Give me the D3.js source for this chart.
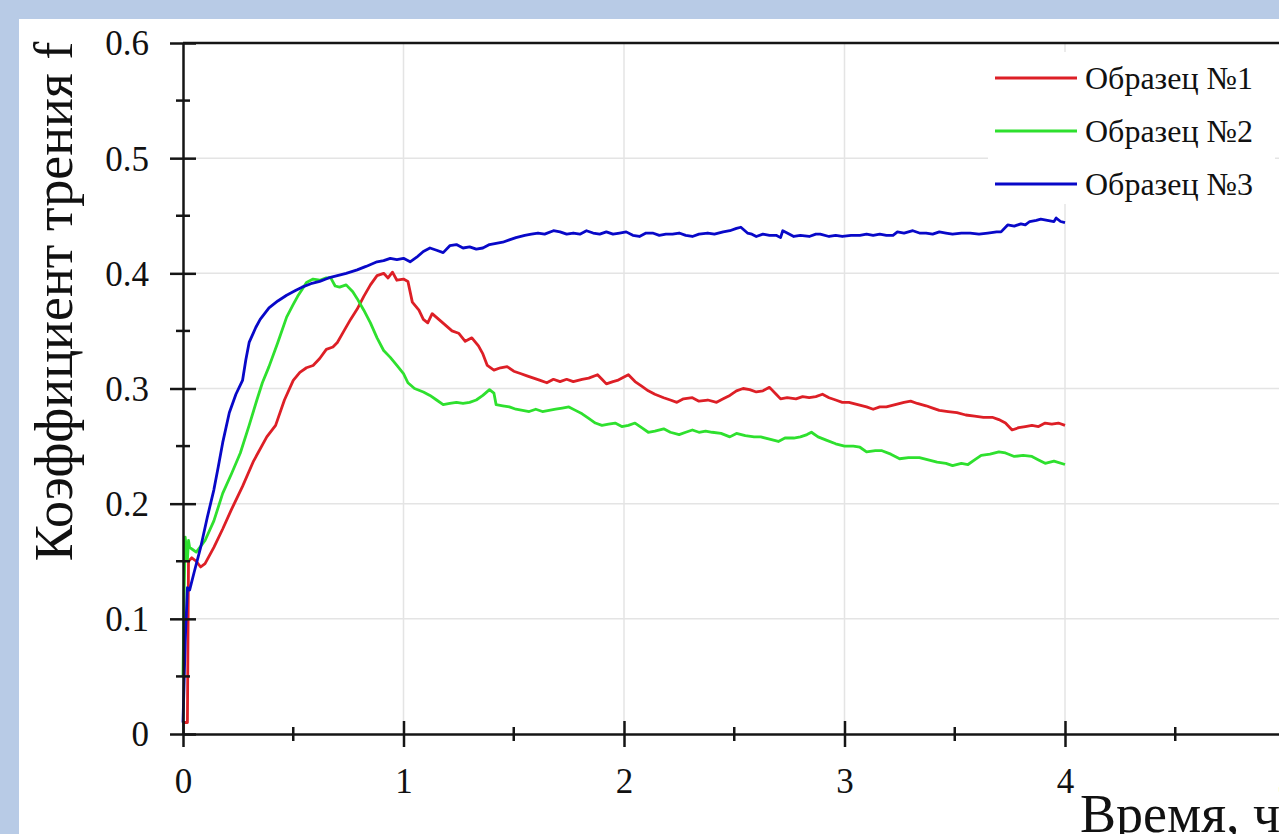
<!DOCTYPE html>
<html>
<head>
<meta charset="utf-8">
<script src="https://cdn.jsdelivr.net/npm/d3@7"></script>
<style>
    html, body { margin: 0; padding: 0; background: #b8cbe6; }
    svg { display: block; }
    text { font-family: "Liberation Serif", "Times New Roman", serif; fill: #111; }
</style>
</head>
<body>
<div id="chart"></div>
<script>
// --- data ---
const seriesNames = ['Образец №1', 'Образец №2', 'Образец №3'];
const seriesColors = ['#dd1f26', '#2ee02e', '#0808c8'];

const xTickLabels = ['0', '1', '2', '3', '4', '5'];
const yTickLabels = ['0', '0.1', '0.2', '0.3', '0.4', '0.5', '0.6'];

const time1 = [0, 0.02, 0.025, 0.04, 0.06, 0.08, 0.10, 0.14, 0.18, 0.22, 0.27, 0.32, 0.38, 0.42, 0.46, 0.50, 0.53, 0.56, 0.59, 0.62,
    0.65, 0.68, 0.70, 0.73, 0.76, 0.79, 0.82, 0.85, 0.88, 0.91, 0.93, 0.95, 0.97, 1.00, 1.02, 1.04, 1.07, 1.09, 1.11, 1.13,
    1.16, 1.19, 1.22, 1.25, 1.28, 1.31, 1.34, 1.36, 1.38, 1.41, 1.44, 1.47, 1.50, 1.53, 1.56, 1.59, 1.62, 1.65, 1.68, 1.71,
    1.74, 1.77, 1.81, 1.84, 1.88, 1.90, 1.92, 1.95, 1.97, 2.00, 2.02, 2.05, 2.08, 2.11, 2.14, 2.18, 2.21, 2.24, 2.27, 2.31,
    2.34, 2.38, 2.42, 2.45, 2.48, 2.51, 2.54, 2.57, 2.60, 2.63, 2.66, 2.69, 2.71, 2.74, 2.78, 2.81, 2.84, 2.87, 2.90, 2.93,
    2.96, 2.99, 3.02, 3.06, 3.10, 3.13, 3.16, 3.19, 3.23, 3.27, 3.30, 3.33, 3.37, 3.40, 3.43, 3.47, 3.51, 3.55, 3.59, 3.63,
    3.67, 3.70, 3.73, 3.76, 3.79, 3.82, 3.85, 3.88, 3.91, 3.94, 3.97, 4.00];
const friction1 = [0.010, 0.010, 0.150, 0.153, 0.150, 0.145, 0.148, 0.162, 0.178, 0.195, 0.215, 0.237, 0.258, 0.268, 0.290, 0.307, 0.314, 0.318, 0.320, 0.326,
    0.334, 0.336, 0.340, 0.350, 0.360, 0.369, 0.380, 0.390, 0.398, 0.400, 0.396, 0.401, 0.394, 0.395, 0.393, 0.375, 0.368, 0.360, 0.357, 0.365,
    0.360, 0.355, 0.350, 0.348, 0.341, 0.344, 0.337, 0.330, 0.320, 0.316, 0.318, 0.319, 0.315, 0.313, 0.311, 0.309, 0.307, 0.305, 0.308, 0.306,
    0.308, 0.306, 0.308, 0.309, 0.312, 0.308, 0.304, 0.306, 0.307, 0.310, 0.312, 0.306, 0.302, 0.298, 0.295, 0.292, 0.290, 0.288, 0.291, 0.292,
    0.289, 0.290, 0.288, 0.291, 0.294, 0.298, 0.300, 0.299, 0.297, 0.298, 0.301, 0.295, 0.291, 0.292, 0.291, 0.293, 0.292, 0.293, 0.295, 0.292,
    0.290, 0.288, 0.288, 0.286, 0.284, 0.282, 0.284, 0.284, 0.286, 0.288, 0.289, 0.287, 0.285, 0.283, 0.281, 0.280, 0.279, 0.277, 0.276, 0.275,
    0.275, 0.273, 0.270, 0.264, 0.266, 0.267, 0.268, 0.267, 0.270, 0.269, 0.270, 0.268];

const time2 = [0, 0.005, 0.01, 0.015, 0.02, 0.025, 0.03, 0.045, 0.06, 0.08, 0.10, 0.14, 0.18, 0.22, 0.26, 0.30, 0.335, 0.36, 0.39, 0.43,
    0.47, 0.50, 0.52, 0.54, 0.56, 0.59, 0.62, 0.65, 0.67, 0.69, 0.71, 0.74, 0.77, 0.79, 0.82, 0.85, 0.88, 0.91, 0.94, 0.97,
    1.00, 1.02, 1.05, 1.09, 1.12, 1.15, 1.18, 1.21, 1.24, 1.27, 1.30, 1.33, 1.36, 1.39, 1.41, 1.42, 1.45, 1.48, 1.51, 1.54,
    1.57, 1.60, 1.63, 1.66, 1.69, 1.72, 1.75, 1.78, 1.81, 1.84, 1.87, 1.90, 1.93, 1.96, 1.99, 2.02, 2.05, 2.08, 2.11, 2.14,
    2.18, 2.21, 2.25, 2.28, 2.31, 2.34, 2.37, 2.40, 2.44, 2.48, 2.51, 2.55, 2.59, 2.62, 2.66, 2.70, 2.73, 2.77, 2.80, 2.83,
    2.85, 2.88, 2.92, 2.96, 3.00, 3.04, 3.07, 3.10, 3.14, 3.17, 3.21, 3.25, 3.29, 3.34, 3.38, 3.42, 3.46, 3.49, 3.53, 3.56,
    3.59, 3.62, 3.66, 3.70, 3.73, 3.77, 3.81, 3.85, 3.88, 3.91, 3.95, 4.00];
const friction2 = [0.050, 0.120, 0.171, 0.160, 0.151, 0.168, 0.162, 0.160, 0.158, 0.163, 0.168, 0.185, 0.209, 0.226, 0.244, 0.268, 0.290, 0.305, 0.319, 0.340,
    0.362, 0.373, 0.380, 0.386, 0.392, 0.395, 0.394, 0.396, 0.396, 0.389, 0.388, 0.390, 0.384, 0.378, 0.368, 0.357, 0.344, 0.333, 0.327, 0.320,
    0.313, 0.305, 0.300, 0.297, 0.294, 0.290, 0.286, 0.287, 0.288, 0.287, 0.288, 0.290, 0.294, 0.299, 0.296, 0.286, 0.285, 0.284, 0.282, 0.281,
    0.280, 0.282, 0.280, 0.281, 0.282, 0.283, 0.284, 0.281, 0.278, 0.274, 0.270, 0.268, 0.269, 0.270, 0.267, 0.268, 0.270, 0.266, 0.262, 0.263,
    0.265, 0.262, 0.260, 0.262, 0.264, 0.262, 0.263, 0.262, 0.261, 0.258, 0.261, 0.259, 0.258, 0.258, 0.256, 0.254, 0.257, 0.257, 0.258, 0.260,
    0.262, 0.258, 0.255, 0.252, 0.250, 0.250, 0.249, 0.245, 0.246, 0.246, 0.243, 0.239, 0.240, 0.240, 0.238, 0.236, 0.235, 0.233, 0.235, 0.234,
    0.238, 0.242, 0.243, 0.245, 0.244, 0.241, 0.242, 0.241, 0.238, 0.235, 0.237, 0.234];

const time3 = [0, 0.01, 0.02, 0.03, 0.05, 0.08, 0.11, 0.14, 0.16, 0.18, 0.21, 0.24, 0.27, 0.285, 0.30, 0.33, 0.35, 0.39, 0.43, 0.47,
    0.51, 0.54, 0.58, 0.62, 0.66, 0.70, 0.74, 0.79, 0.83, 0.88, 0.91, 0.94, 0.97, 1.00, 1.03, 1.06, 1.09, 1.12, 1.15, 1.18,
    1.21, 1.24, 1.27, 1.30, 1.33, 1.36, 1.39, 1.42, 1.45, 1.48, 1.51, 1.55, 1.58, 1.61, 1.64, 1.68, 1.71, 1.74, 1.77, 1.80,
    1.83, 1.86, 1.89, 1.92, 1.95, 1.98, 2.01, 2.04, 2.07, 2.10, 2.13, 2.16, 2.19, 2.22, 2.25, 2.28, 2.31, 2.34, 2.38, 2.41,
    2.45, 2.48, 2.51, 2.53, 2.56, 2.58, 2.60, 2.63, 2.66, 2.69, 2.71, 2.72, 2.74, 2.77, 2.80, 2.84, 2.87, 2.89, 2.93, 2.96,
    2.99, 3.03, 3.07, 3.10, 3.13, 3.16, 3.19, 3.22, 3.24, 3.27, 3.31, 3.34, 3.37, 3.40, 3.43, 3.46, 3.49, 3.53, 3.57, 3.61,
    3.65, 3.69, 3.71, 3.74, 3.77, 3.80, 3.82, 3.84, 3.87, 3.89, 3.92, 3.95, 3.96, 3.98, 4.00];
const friction3 = [0.010, 0.080, 0.127, 0.125, 0.140, 0.162, 0.188, 0.212, 0.232, 0.253, 0.279, 0.295, 0.307, 0.325, 0.340, 0.353, 0.360, 0.370, 0.376, 0.381,
    0.385, 0.388, 0.391, 0.393, 0.396, 0.398, 0.400, 0.403, 0.406, 0.410, 0.411, 0.413, 0.412, 0.413, 0.410, 0.414, 0.419, 0.422, 0.420, 0.418,
    0.424, 0.425, 0.422, 0.423, 0.421, 0.422, 0.425, 0.426, 0.427, 0.429, 0.431, 0.433, 0.434, 0.435, 0.434, 0.437, 0.436, 0.434, 0.435, 0.434,
    0.437, 0.435, 0.434, 0.436, 0.434, 0.435, 0.436, 0.433, 0.432, 0.435, 0.435, 0.433, 0.434, 0.434, 0.435, 0.433, 0.432, 0.434, 0.435, 0.434,
    0.436, 0.437, 0.439, 0.440, 0.435, 0.434, 0.432, 0.434, 0.433, 0.433, 0.431, 0.437, 0.435, 0.432, 0.433, 0.432, 0.434, 0.434, 0.432, 0.433,
    0.432, 0.433, 0.433, 0.434, 0.433, 0.434, 0.433, 0.433, 0.436, 0.435, 0.437, 0.435, 0.435, 0.434, 0.436, 0.435, 0.434, 0.435, 0.435, 0.434,
    0.435, 0.436, 0.436, 0.442, 0.441, 0.443, 0.442, 0.445, 0.446, 0.447, 0.446, 0.445, 0.448, 0.445, 0.444];

const xMinorTicks = [0.5, 1.5, 2.5, 3.5, 4.5];
const yMinorTicks = [0.05, 0.15, 0.25, 0.35, 0.45, 0.55];

// --- layout ---
const CONFIG = {
    WIDTH: 1279,
    HEIGHT: 834,
    PANEL_X: 19,
    PANEL_Y: 19,
    LEFT: 183,
    TOP: 43,
    BOTTOM: 734,
    UNIT_X: 220.5,
    AXIS_COLOR: '#151515',
    GRID_COLOR: '#e4e4e4',
    LINE_WIDTH: 2.8
};

const series = seriesNames.map((name, i) => {
    const t = [time1, time2, time3][i];
    const f = [friction1, friction2, friction3][i];
    return { name: name, color: seriesColors[i], values: t.map((d, j) => ({ t: d, f: f[j] })) };
});

const x = d3.scaleLinear()
    .domain([0, 5])
    .range([CONFIG.LEFT, CONFIG.LEFT + 5 * CONFIG.UNIT_X]);
const y = d3.scaleLinear()
    .domain([0, 0.6])
    .range([CONFIG.BOTTOM, CONFIG.TOP]);

const svg = d3.select('#chart').append('svg')
    .attr('width', CONFIG.WIDTH)
    .attr('height', CONFIG.HEIGHT);

svg.append('rect')
    .attr('width', CONFIG.WIDTH).attr('height', CONFIG.HEIGHT)
    .attr('fill', '#b8cbe6');
svg.append('rect')
    .attr('x', CONFIG.PANEL_X).attr('y', CONFIG.PANEL_Y)
    .attr('width', CONFIG.WIDTH).attr('height', CONFIG.HEIGHT)
    .attr('fill', '#fff');

// grid
const grid = svg.append('g')
    .attr('stroke', CONFIG.GRID_COLOR)
    .attr('stroke-width', 1.5);
grid.selectAll('line.gx')
    .data(d3.range(1, 6))
    .join('line')
    .attr('class', 'gx')
    .attr('x1', d => x(d)).attr('x2', d => x(d))
    .attr('y1', y(0)).attr('y2', y(0.6));
grid.selectAll('line.gy')
    .data(d3.range(1, 6).map(d => d / 10))
    .join('line')
    .attr('class', 'gy')
    .attr('x1', x(0)).attr('x2', x(5))
    .attr('y1', d => y(d)).attr('y2', d => y(d));

// series
const line = d3.line()
    .x(d => x(d.t))
    .y(d => y(d.f));

svg.append('g')
    .selectAll('path')
    .data(series)
    .join('path')
    .attr('d', d => line(d.values))
    .attr('fill', 'none')
    .attr('stroke', d => d.color)
    .attr('stroke-width', CONFIG.LINE_WIDTH)
    .attr('stroke-linejoin', 'round');

// frame top
svg.append('line')
    .attr('x1', x(0)).attr('x2', x(5))
    .attr('y1', y(0.6)).attr('y2', y(0.6))
    .attr('stroke', CONFIG.AXIS_COLOR).attr('stroke-width', 2.5);

// axes
function styleAxis(g, major, horizontal) {
    g.select('.domain').attr('stroke', CONFIG.AXIS_COLOR).attr('stroke-width', 2.5);
    g.selectAll('.tick line')
        .attr('stroke', CONFIG.AXIS_COLOR)
        .attr('stroke-width', 2.5)
        .attr(horizontal ? 'y1' : 'x1', -major)
        .attr(horizontal ? 'y2' : 'x2', major);
    g.selectAll('.tick text')
        .attr('font-size', 35)
        .attr('fill', '#111');
}

const yAxis = svg.append('g')
    .attr('transform', `translate(${x(0)},0)`)
    .call(d3.axisLeft(y)
        .tickValues(d3.range(0, 7).map(d => d / 10))
        .tickFormat((d, i) => yTickLabels[i])
        .tickSizeOuter(0)
        .tickPadding(28));
styleAxis(yAxis, 13, false);
yAxis.selectAll('.tick text').attr('dy', '0.34em');

const xAxis = svg.append('g')
    .attr('transform', `translate(0,${y(0)})`)
    .call(d3.axisBottom(x)
        .tickValues(d3.range(0, 6))
        .tickFormat((d, i) => xTickLabels[i])
        .tickSizeOuter(0)
        .tickPadding(28));
styleAxis(xAxis, 13, true);

// minor ticks
svg.append('g')
    .attr('stroke', CONFIG.AXIS_COLOR).attr('stroke-width', 2.5)
    .selectAll('line')
    .data(yMinorTicks)
    .join('line')
    .attr('x1', x(0) - 7).attr('x2', x(0) + 7)
    .attr('y1', d => y(d)).attr('y2', d => y(d));
svg.append('g')
    .attr('stroke', CONFIG.AXIS_COLOR).attr('stroke-width', 2.5)
    .selectAll('line')
    .data(xMinorTicks)
    .join('line')
    .attr('y1', y(0) - 7).attr('y2', y(0) + 7)
    .attr('x1', d => x(d)).attr('x2', d => x(d));

// axis titles
svg.append('text')
    .attr('transform', `translate(72,${(40 + 563) / 2}) rotate(-90)`)
    .attr('text-anchor', 'middle')
    .attr('font-size', 54)
    .text('Коэффициент трения f');

svg.append('text')
    .attr('x', 1080).attr('y', 832)
    .attr('font-size', 54)
    .text('Время, ч');

// legend
const legend = svg.append('g');
legend.append('rect')
    .attr('x', 988).attr('y', 52)
    .attr('width', 287).attr('height', 152)
    .attr('fill', '#fff');
const rows = legend.selectAll('g.row')
    .data(series)
    .join('g')
    .attr('class', 'row')
    .attr('transform', (d, i) => `translate(995,${78 + i * 53})`);
rows.append('line')
    .attr('x1', 0).attr('x2', 82)
    .attr('stroke', d => d.color)
    .attr('stroke-width', CONFIG.LINE_WIDTH);
rows.append('text')
    .attr('x', 90).attr('dy', '0.34em')
    .attr('font-size', 32)
    .text(d => d.name);
</script>
</body>
</html>
